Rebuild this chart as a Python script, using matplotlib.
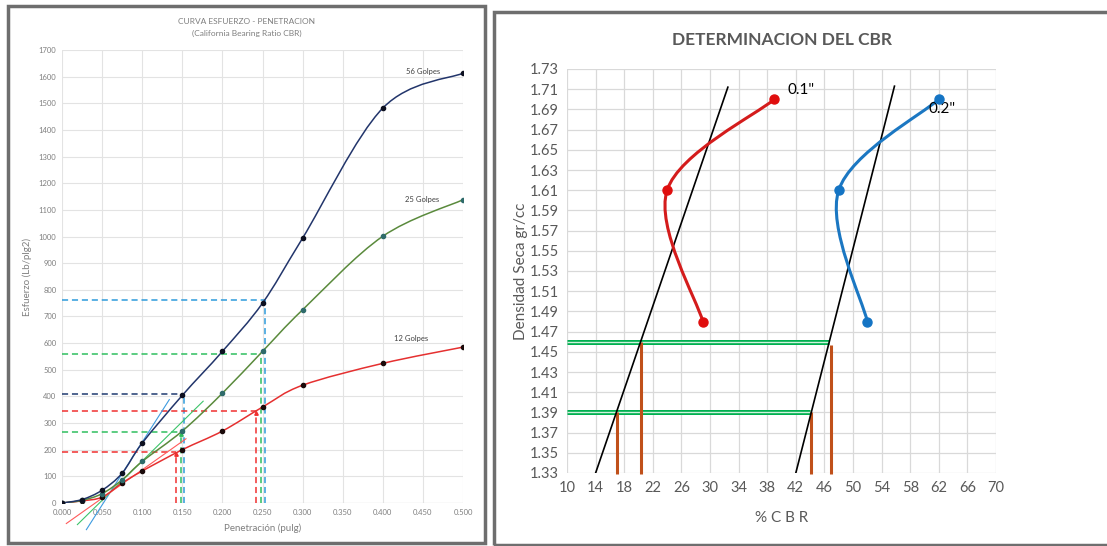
import matplotlib
matplotlib.use("Agg")
import matplotlib.pyplot as plt
import numpy as np
from matplotlib.path import Path
from matplotlib.patches import PathPatch, Rectangle

plt.rcParams['font.family'] = ['Lato', 'DejaVu Sans']

# ---- left chart: curva esfuerzo - penetracion
pen = [0.0, 0.025, 0.05, 0.075, 0.1, 0.15, 0.2, 0.25, 0.3, 0.4, 0.5]
g56 = [0, 13, 48, 112, 225, 404, 569, 750, 994, 1482, 1613]
g25 = [0, 10, 35, 87, 156, 270, 412, 569, 725, 1001, 1138]
g12 = [0, 8, 22, 75, 120, 200, 270, 360, 442, 524, 585]

# dashed reading lines: (x at curve, y value)
read_x = [0.2525, 0.248, 0.1525, 0.2417, 0.148, 0.142]
read_y = [762, 561, 410, 344, 266, 190]
read_col = ["#2E9BDB", "#2FBF5F", "#1F3A70", "#F03030", "#2FBF5F", "#F03030"]
read_vcol = ["#2E9BDB", "#2FBF5F", "#2E9BDB", "#F03030", "#2FBF5F", "#F03030"]

# tangent lines (start, end)
tan_x = [[0.0304, 0.1338], [0.0192, 0.176], [0.0054, 0.1546]]
tan_y = [[-100, 388], [-81, 382], [-77, 241]]
tan_col = ["#3D9BE0", "#3CC46A", "#FF5A5A"]

# ---- right chart: determinacion del CBR
cbr01 = [29, 24, 39]
den01 = [1.48, 1.61, 1.70]
cbr02 = [52, 48, 62]
den02 = [1.48, 1.61, 1.70]
black1_x = [14, 32.5]
black1_y = [1.33, 1.712]
black2_x = [42, 55.8]
black2_y = [1.33, 1.713]
green_y = [1.46, 1.39]
green_xend = [46.7, 44.0]
brown_x = [17.0, 20.3, 44.1, 46.9]
brown_top = [1.39, 1.46, 1.39, 1.457]


def smooth(ax, x, y, color, lw):
    pts = np.column_stack([x, y]).astype(float)
    n = len(pts)
    verts = [pts[0]]
    codes = [Path.MOVETO]
    for i in range(n - 1):
        p0 = pts[max(i - 1, 0)]
        p1 = pts[i]
        p2 = pts[i + 1]
        p3 = pts[min(i + 2, n - 1)]
        verts += [p1 + (p2 - p0) / 6, p2 - (p3 - p1) / 6, p2]
        codes += [Path.CURVE4] * 3
    ax.add_patch(PathPatch(Path(verts, codes), fill=False, edgecolor=color,
                           lw=lw, zorder=3))


fig = plt.figure(figsize=(11.07, 5.46), dpi=100)
W, H = 1107, 546
fig.patches.append(Rectangle((8 / W, 1 - 543 / H), 477 / W, 537 / H,
                             transform=fig.transFigure, fill=False,
                             edgecolor="#6E6E6E", lw=2.5))
fig.patches.append(Rectangle((494 / W, 1 - 545 / H), 640 / W, 533 / H,
                             transform=fig.transFigure, fill=False,
                             edgecolor="#6E6E6E", lw=2.5))

ax = fig.add_axes([62 / W, 1 - 503 / H, 401 / W, 453 / H])
ax.set_xlim(0, 0.5)
ax.set_ylim(0, 1700)
ax.set_xticks(np.arange(0, 0.501, 0.05))
ax.set_xticklabels(["%.3f" % v for v in np.arange(0, 0.501, 0.05)])
ax.set_yticks(np.arange(0, 1701, 100))
ax.grid(True, color="#E3E3E3", lw=0.8)
ax.set_axisbelow(True)
for s in ax.spines.values():
    s.set_visible(False)
ax.axhline(0, color="#BFBFBF", lw=0.8)
ax.tick_params(length=0, labelsize=5.5, colors="#7F7F7F", pad=4)

for i in range(len(read_x)):
    ax.plot([0, read_x[i]], [read_y[i], read_y[i]], ls=(0, (4, 2.5)),
            color=read_col[i], lw=1.1, zorder=2)
    ax.plot([read_x[i], read_x[i]], [0, read_y[i]], ls=(0, (4, 2.5)),
            color=read_vcol[i], lw=1.1, zorder=2)
for i in [3, 4, 5]:
    ax.plot(read_x[i], read_y[i] - 6, marker="^", ms=2.5,
            color=read_vcol[i], zorder=2)

for i in range(3):
    ax.plot(tan_x[i], tan_y[i], color=tan_col[i], lw=0.8, clip_on=False,
            zorder=2)

smooth(ax, pen, g12, "#E53030", 1.1)
smooth(ax, pen, g25, "#5A8A3C", 1.1)
smooth(ax, pen, g56, "#22356B", 1.1)
ax.plot(pen, g12, "o", color="#1A0A0A", ms=3, zorder=4)
ax.plot(pen, g25, "o", color="#2F6B6B", ms=3, zorder=4)
ax.plot(pen, g56, "o", color="#0D1020", ms=3, zorder=4)

ax.text(0.45, 1618, "56 Golpes", fontsize=5.5, color="#404040",
        ha="center", va="center")
ax.text(0.449, 1140, "25 Golpes", fontsize=5.5, color="#404040",
        ha="center", va="center")
ax.text(0.435, 619, "12 Golpes", fontsize=5.5, color="#404040",
        ha="center", va="center")

fig.text(247 / W, 1 - 21 / H, "CURVA ESFUERZO - PENETRACION", fontsize=6,
         color="#7F7F7F", ha="center", va="center")
fig.text(247 / W, 1 - 33 / H, "(California Bearing Ratio CBR)", fontsize=6,
         color="#7F7F7F", ha="center", va="center")
ax.set_xlabel("Penetración (pulg)", fontsize=7, color="#7F7F7F", labelpad=6)
ax.set_ylabel("Esfuerzo (Lb/plg2)", fontsize=7, color="#7F7F7F", labelpad=5)

# right chart
bx = fig.add_axes([567 / W, 1 - 473 / H, 429 / W, 404 / H])
bx.set_xlim(10, 70)
bx.set_ylim(1.33, 1.73)
bx.set_xticks(np.arange(10, 71, 4))
bx.set_yticks(np.arange(1.33, 1.7301, 0.02))
bx.set_yticklabels(["%.2f" % v for v in np.arange(1.33, 1.7301, 0.02)])
bx.grid(True, color="#D9D9D9", lw=0.9)
bx.set_axisbelow(True)
for s in bx.spines.values():
    s.set_visible(False)
bx.tick_params(length=0, labelsize=10.5, colors="#595959", pad=6)

for i in range(2):
    bx.plot([10, green_xend[i]], [green_y[i], green_y[i]], color="#00B050",
            lw=3.6, solid_capstyle="butt", zorder=2)
    bx.plot([10, green_xend[i]], [green_y[i], green_y[i]], color="#CFF2DC",
            lw=1.0, solid_capstyle="butt", zorder=2)
for i in range(4):
    bx.plot([brown_x[i], brown_x[i]], [1.329, brown_top[i]], color="#C0501A",
            lw=2.2, solid_capstyle="butt", clip_on=False, zorder=2)

bx.plot(black1_x, black1_y, color="black", lw=1.2, zorder=3)
bx.plot(black2_x, black2_y, color="black", lw=1.2, zorder=3)

smooth(bx, cbr01, den01, "#D41C1C", 2.2)
smooth(bx, cbr02, den02, "#1B77C2", 2.2)
bx.plot(cbr01, den01, "o", color="#E00E0E", ms=6.5, zorder=4)
bx.plot(cbr02, den02, "o", color="#1474C4", ms=6.5, zorder=4)
bx.text(40.8, 1.709, '0.1"', fontsize=11, ha="left", va="center")
bx.text(60.6, 1.6905, '0.2"', fontsize=11, ha="left", va="center")

bx.set_title("DETERMINACION DEL CBR", fontsize=12.5, fontweight="bold",
             color="#595959", pad=17)
bx.set_xlabel("% C B R", fontsize=11, color="#595959", labelpad=11)
bx.set_ylabel("Densidad Seca gr/cc", fontsize=11, color="#595959",
              labelpad=1)

fig.savefig("out.png", dpi=100)
